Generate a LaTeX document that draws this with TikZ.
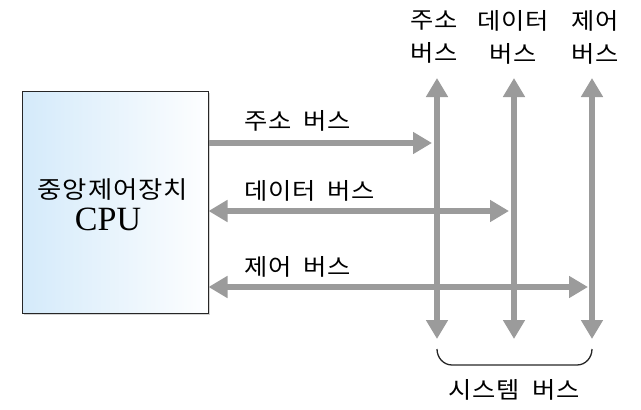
\documentclass[tikz,border=0pt]{standalone}
\usepackage{fontspec}
\setmainfont{Liberation Serif}
\newfontfamily\kr[FakeStretch=1.1,LetterSpace=4,WordSpace=1.8]{Noto Sans CJK KR}
\usetikzlibrary{arrows.meta,shadows}
\definecolor{busgray}{RGB}{155,155,155}
\definecolor{boxblue}{RGB}{212,234,250}
\tikzset{
  bus/.style={draw=busgray,line width=6pt,-{Triangle[width=21pt,length=19pt]}},
  bibus/.style={draw=busgray,line width=6pt,{Triangle[width=21pt,length=19pt]}-{Triangle[width=21pt,length=19pt]}},
  lbl/.style={font=\kr\fontsize{23}{33}\selectfont,inner sep=0pt,align=center},
}
\begin{document}
\begin{tikzpicture}[x=1pt,y=-1pt]
\useasboundingbox (0,0) rectangle (641,410);
% CPU box
\node[draw=black!85,line width=1pt,minimum width=186pt,minimum height=222pt,inner sep=0pt,
      left color=boxblue,right color=white!96!boxblue,
      drop shadow={shadow xshift=2pt,shadow yshift=-2pt,opacity=0.35}] (cpu) at (115,202) {};
\node[font=\kr\fontsize{24}{26}\selectfont,inner sep=0pt] (cpuk) at (113,190) {중앙제어장치};
\node[font=\fontsize{34}{36}\selectfont,inner sep=0pt,anchor=base] (cpue) at (108,230) {CPU};
% bus coordinates
\coordinate (at) at (437,78);  \coordinate (ab) at (437,339);
\coordinate (dt) at (514,78);  \coordinate (db) at (514,339);
\coordinate (ct) at (592,78);  \coordinate (cb) at (592,339);
\coordinate (ahit) at (432,143);
\coordinate (dhit) at (509,211);
\coordinate (chit) at (588,287);
% horizontal buses
\draw[bus] (cpu.east |- ahit) -- (ahit);
\draw[bibus] (cpu.east |- dhit) -- (dhit);
\draw[bibus] (cpu.east |- chit) -- (chit);
% vertical system buses
\draw[bibus] (ab) -- (at);
\draw[bibus] (db) -- (dt);
\draw[bibus] (cb) -- (ct);
% labels
\node[lbl,anchor=west] (la) at (244,121) {주소 버스};
\node[lbl,anchor=west] (ld) at (244,191) {데이터 버스};
\node[lbl,anchor=west] (lc) at (244,267) {제어 버스};
\node[lbl] (ta) at (434,37) {주소\\버스};
\node[lbl] (td) at (513,37) {데이터\\버스};
\node[lbl] (tc) at (595,37) {제어\\버스};
% brace
\coordinate (bl) at (437,349);
\coordinate (br) at (592,349);
\draw[line width=1.3pt,black!85] (bl) to[out=-90,in=180] (452,365) -- (577,365) to[out=0,in=-90] (br);
\node[lbl] (sys) at (514,390) {시스템 버스};
\end{tikzpicture}
\end{document}
